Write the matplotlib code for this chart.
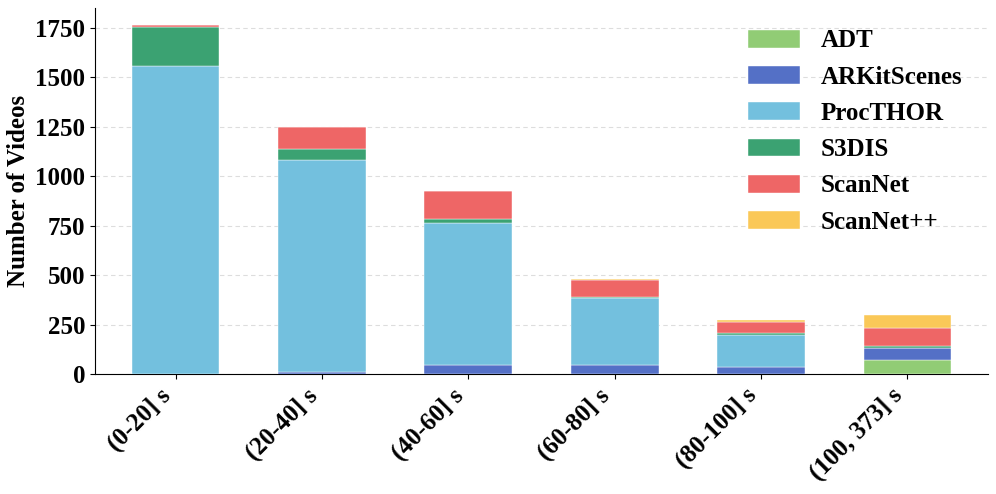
import matplotlib
matplotlib.use("Agg")
import matplotlib.pyplot as plt
import numpy as np

plt.rcParams['font.family'] = ['Liberation Serif', 'DejaVu Serif']
plt.rcParams['font.weight'] = 'bold'

categories = ["(0-20] s", "(20-40] s", "(40-60] s", "(60-80] s", "(80-100] s", "(100, 373] s"]
datasets = ["ADT", "ARKitScenes", "ProcTHOR", "S3DIS", "ScanNet", "ScanNet++"]
adt = [0, 0, 0, 0, 0, 73]
arkitscenes = [0, 10, 45, 47, 37, 57]
procthor = [1558, 1072, 720, 339, 160, 0]
s3dis = [196, 55, 19, 3, 10, 12]
scannet = [8, 111, 142, 84, 56, 92]
scannetpp = [0, 0, 0, 5, 12, 64]
series = [adt, arkitscenes, procthor, s3dis, scannet, scannetpp]
colors = ["#91CC75", "#5470C6", "#73C0DE", "#3BA272", "#EE6666", "#FAC858"]

fig = plt.figure(figsize=(9.96, 4.94), dpi=100)
ax = fig.add_axes([95/996, 1 - 374/494, (988-95)/996, (374-8)/494])

x = np.arange(len(categories))
bottom = np.zeros(len(categories))
for name, vals, c in zip(datasets, series, colors):
    ax.bar(x, vals, width=0.6, bottom=bottom, color=c, label=name,
           edgecolor='#ffffff', linewidth=0.3, zorder=3)
    bottom += np.array(vals)

ax.set_xlim(-0.55, 5.55)
ax.set_ylim(0, 1850)
ax.set_yticks([0, 250, 500, 750, 1000, 1250, 1500, 1750])
ax.set_xticks(x)
ax.set_xticklabels(categories, rotation=45, ha='right',
                   fontsize=18, fontweight='bold')
ax.tick_params(axis='y', labelsize=18)
for lbl in ax.get_yticklabels():
    lbl.set_fontweight('bold')
ax.set_ylabel("Number of Videos", fontsize=18, fontweight='bold', labelpad=3.5)
ax.yaxis.grid(True, linestyle=(0, (4, 3)), color='#dddddd', linewidth=0.8, zorder=0)
ax.set_axisbelow(True)
ax.spines['top'].set_visible(False)
ax.spines['right'].set_visible(False)

ax.legend(loc='upper right', bbox_to_anchor=(0.9826, 0.9686), frameon=False,
          handlelength=2.05, handleheight=0.72, labelspacing=0.53,
          handletextpad=0.85, borderaxespad=0.0,
          prop={'weight': 'bold', 'size': 18})

fig.savefig("out.png", dpi=100)
